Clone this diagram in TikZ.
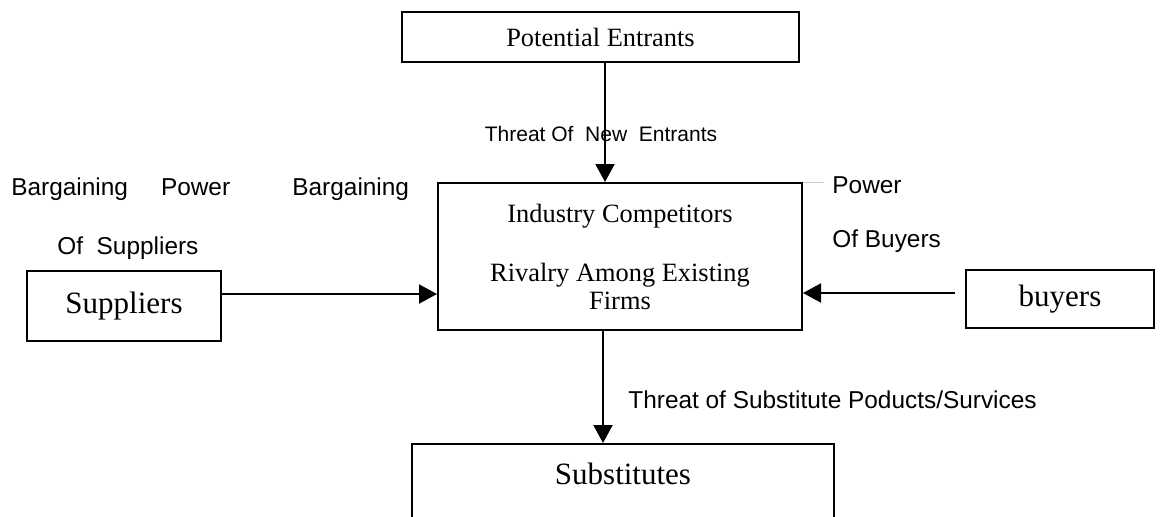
\documentclass[tikz,border=0pt]{standalone}
\usepackage{fontspec}
\setmainfont{Liberation Serif}
\setsansfont{Liberation Sans}
\usepackage{tikz}
\usetikzlibrary{
    arrows.meta,
    calc,
    positioning
}

\begin{document}
\begin{tikzpicture}[x=0.5pt, y=-0.5pt,
    box/.style={draw, line width=1pt, inner sep=0pt, align=center},
    arr/.style={line width=1pt, -{Triangle[length=9pt, width=9.5pt]}},
    lbl/.style={font=\sffamily\fontsize{12.2}{14}\selectfont, inner sep=0pt}]
                                \useasboundingbox (0, 0) rectangle (1162, 516);
                                \node[box, minimum width=198.5pt, minimum height=25pt, font=\fontsize{13.2}{15}\selectfont] (pe) at (600.5, 37) {Potential Entrants};
                                \node[box, minimum width=182pt, minimum height=73.5pt, font=\fontsize{13.2}{14}\selectfont] (ind) at (620, 256.5) {Industry Competitors\\[15.5pt]Rivalry Among Existing\\Firms};
                                \node[box, minimum width=97pt, minimum height=35pt, font=\fontsize{15.5}{18}\selectfont] (sup) at (124, 306) {Suppliers};
                                \node[box, minimum width=94pt, minimum height=29pt, font=\fontsize{15.5}{18}\selectfont] (buy) at (1060, 299) {buyers};
                                \node[box, minimum width=211pt, minimum height=45pt, anchor=north] (subs) at (623, 443) {};
                                \node[font=\fontsize{15.5}{18}\selectfont] (substxt) at (623, 474) {Substitutes};
                                \node[lbl, font=\sffamily\fontsize{10.5}{12}\selectfont] (newlbl) at (601, 134) {Threat Of~~New~~Entrants};
                                \node[lbl, anchor=west] (suplbl) at (11, 189) {Bargaining\hspace{16.5pt}Power};
                                \node[lbl, anchor=west] (midlbl) at (292, 189) {Bargaining};
                                \node[lbl, anchor=west] (suplblb) at (57, 248) {Of~~Suppliers};
                                \node[lbl, anchor=west] (buylbl) at (832, 185) {Power};
                                \node[lbl, anchor=west] (buylblb) at (832, 241) {Of Buyers};
                                \node[lbl, anchor=west] (subslbl) at (628, 400) {Threat of Substitute Poducts/Survices};
                                \draw
                                ([xshift=2.25pt]pe.south) edge[arr] ([xshift=2.25pt]pe.south |- ind.north)
                                ([yshift=6pt]sup.east) edge[arr] ([yshift=6pt]sup.east -| ind.west)
                                ([xshift=-5pt, yshift=3pt]buy.west) edge[arr] ([yshift=3pt]buy.west -| ind.east)
                                ([xshift=-8.5pt]ind.south) edge[arr] ([xshift=-8.5pt]ind.south |- subs.north);
                                \draw[gray!40, line width=0.4pt] (ind.north east) -- ++(21, 0);
                            \end{tikzpicture}
\end{document}
